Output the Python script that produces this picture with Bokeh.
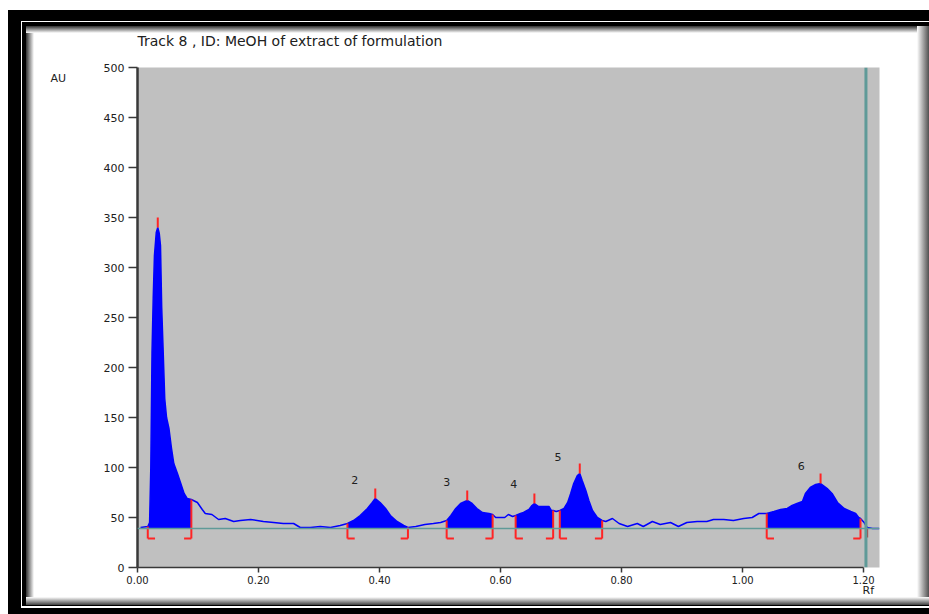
import numpy as np
from bokeh.plotting import figure
from bokeh.models import Range1d, FixedTicker, Span, Label, NumeralTickFormatter
from bokeh.embed import file_html
from bokeh.resources import INLINE
from bokeh.core.properties import value

# ---- data ----
rf = [0.005, 0.017, 0.020, 0.022, 0.024, 0.026, 0.028, 0.031, 0.0335, 0.036, 0.038, 0.040,
      0.042, 0.045, 0.048, 0.052, 0.056, 0.060, 0.066, 0.071, 0.077, 0.082, 0.089,
      0.099, 0.107, 0.112, 0.123, 0.134, 0.145, 0.159, 0.170, 0.187, 0.208, 0.225, 0.241,
      0.258, 0.269, 0.286, 0.302, 0.319, 0.335,
      0.347, 0.357, 0.368, 0.380, 0.388, 0.393, 0.401, 0.410, 0.418, 0.429, 0.440, 0.447,
      0.460, 0.475, 0.489, 0.501,
      0.511, 0.518, 0.526, 0.534, 0.545, 0.553, 0.561, 0.570, 0.581, 0.587,
      0.592, 0.607, 0.613, 0.620,
      0.625, 0.633, 0.638, 0.647, 0.652, 0.656, 0.663, 0.680, 0.684, 0.687,
      0.692,
      0.698, 0.705, 0.711, 0.716, 0.721, 0.727, 0.731, 0.735, 0.741, 0.746, 0.752, 0.760, 0.768,
      0.774, 0.785, 0.796, 0.810, 0.826, 0.836, 0.851, 0.864, 0.881, 0.894, 0.908, 0.925,
      0.941, 0.952, 0.969, 0.985, 1.002, 1.016, 1.027,
      1.040, 1.052, 1.063, 1.074, 1.082, 1.090, 1.099, 1.104, 1.112, 1.121, 1.129, 1.140,
      1.148, 1.157, 1.168, 1.179, 1.187, 1.192, 1.195,
      1.201, 1.206, 1.215, 1.226]
au = [40, 41, 45, 100, 215, 270, 312, 335, 340, 334, 322, 260,
      224, 169, 150, 139, 120, 104, 94, 85, 74, 69, 68,
      65, 58, 54, 53, 48, 49, 46, 47, 48, 46, 45, 44,
      44, 40, 40, 41, 40, 42,
      44, 47, 52, 59, 65, 69, 65, 59, 52, 46, 42, 40,
      41, 43, 44, 45,
      47, 52, 59, 64, 67, 64, 59, 55, 54, 53,
      50, 50, 53, 51,
      52, 54, 55, 58, 62, 64, 61, 61, 57, 57,
      56,
      57, 59, 65, 74, 84, 92, 94, 87, 77, 67, 57, 50, 47,
      46, 49, 44, 41, 44, 41, 46, 43, 45, 41, 45, 46,
      46, 48, 48, 47, 49, 50, 54,
      54, 56, 58, 59, 62, 64, 66, 74, 80, 83, 84, 79,
      74, 65, 59, 56, 54, 50, 49,
      45, 40, 39, 39]

baseline_au = 39
peak_start = [0.017, 0.347, 0.511, 0.625, 0.698, 1.040]
peak_end = [0.089, 0.447, 0.587, 0.687, 0.768, 1.195]
peak_max_rf = [0.0335, 0.393, 0.545, 0.656, 0.731, 1.129]
peak_max_au = [340, 69, 67, 64, 94, 84]
label_rf = [0.359, 0.511, 0.622, 0.695, 1.097]
label_au = [88, 86, 84, 111, 102]
label_text = ["2", "3", "4", "5", "6"]
front_rf = 1.204
x_ticks = [0.0, 0.2, 0.4, 0.6, 0.8, 1.0, 1.2]
y_ticks = [0, 50, 100, 150, 200, 250, 300, 350, 400, 450, 500]
title_text = "Track  8 , ID: MeOH of extract of formulation"

W, H = 929, 614
FONT = "DejaVu Sans"
BLUE = "#0000ff"
RED = "#ff2424"
TEAL = "#5f9a98"

# decorative picture frame drawn as CSS background layers behind a transparent canvas
layers = [
    "linear-gradient(to right, #ffffff, #505050) 917px 26px / 12px 571px no-repeat",
    "linear-gradient(to bottom, #ffffff, #404040) 26px 597px / 903px 8px no-repeat",
    "linear-gradient(to bottom, #303030, #ffffff) 26px 26px / 903px 7px no-repeat",
    "linear-gradient(to right, #303030, #ffffff) 26px 26px / 8px 571px no-repeat",
    "linear-gradient(#000, #000) 22px 22px / 907px 4px no-repeat",
    "linear-gradient(#000, #000) 22px 22px / 4px 584px no-repeat",
    "linear-gradient(#000, #000) 22px 605px / 907px 1px no-repeat",
    "linear-gradient(#000, #000) 8px 10px / 921px 11px no-repeat",
    "linear-gradient(#000, #000) 8px 10px / 13px 604px no-repeat",
    "linear-gradient(#000, #000) 8px 608px / 921px 6px no-repeat",
]
frame_css = {"background": ", ".join(layers) + ", #ffffff"}

p = figure(width=W, height=H, output_backend="svg", toolbar_location=None,
           x_range=Range1d(0, 1.2264), y_range=Range1d(0, 500),
           min_border_left=137, min_border_right=50, min_border_top=67, min_border_bottom=47,
           styles=frame_css)
p.background_fill_color = "#c0c0c0"
p.border_fill_color = None
p.outline_line_color = None
p.grid.visible = False

x = np.array(rf)
y = np.array(au)

# filled peaks
for s, e in zip(peak_start, peak_end):
    m = (x >= s - 1e-9) & (x <= e + 1e-9)
    p.varea(x=x[m], y1=baseline_au, y2=y[m], fill_color=BLUE, fill_alpha=1.0)

# baseline and solvent front
p.add_layout(Span(location=baseline_au, dimension="width", line_color=TEAL, line_width=1.5))
p.add_layout(Span(location=front_rf, dimension="height", line_color=TEAL, line_width=3))

# trace
p.line(x, y, line_color=BLUE, line_width=1.5)

# integration brackets
foot = 0.012
bb = baseline_au - 10
n = len(peak_start)
ys = np.interp(peak_start, x, y)
ye = np.interp(peak_end, x, y)
p.segment(x0=peak_start, y0=ys, x1=peak_start, y1=[bb] * n, line_color=RED, line_width=2)
p.segment(x0=peak_start, y0=[bb] * n, x1=[s + foot for s in peak_start], y1=[bb] * n, line_color=RED, line_width=2)
p.segment(x0=peak_end, y0=ye, x1=peak_end, y1=[bb] * n, line_color=RED, line_width=2)
p.segment(x0=[e - foot for e in peak_end], y0=[bb] * n, x1=peak_end, y1=[bb] * n, line_color=RED, line_width=2)
# peak maxima ticks
p.segment(x0=peak_max_rf, y0=peak_max_au, x1=peak_max_rf, y1=[a + 10 for a in peak_max_au],
          line_color=RED, line_width=2)
# small mark at front
p.segment(x0=[front_rf + 0.002], y0=[baseline_au], x1=[front_rf + 0.002], y1=[bb + 1],
          line_color="#c03030", line_width=2)

# peak numbers
p.text(x=label_rf, y=label_au, text=label_text, text_font=value(FONT), text_font_size="11px",
       text_color="#202020", text_align="center", text_baseline="middle")

# axes
for ax in (p.xaxis[0], p.yaxis[0]):
    ax.axis_line_color = "#383838"
    ax.major_tick_line_color = "#383838"
    ax.major_tick_in = 0
    ax.minor_tick_out = 0
    ax.minor_tick_in = 0
    ax.major_label_text_font = FONT
    ax.major_label_text_color = "#202020"
p.yaxis.ticker = FixedTicker(ticks=y_ticks)
p.yaxis.bounds = (0, 500)
p.yaxis.axis_line_width = 2.5
p.yaxis.major_tick_out = 9
p.yaxis.major_tick_line_width = 1.5
p.yaxis.major_label_text_font_size = "11px"
p.yaxis.major_label_standoff = 4
p.xaxis.ticker = FixedTicker(ticks=x_ticks)
p.xaxis.bounds = (0, 1.2)
p.xaxis.axis_line_width = 1.5
p.xaxis.major_tick_out = 5
p.xaxis.major_tick_line_width = 1.5
p.xaxis.major_label_text_font_size = "10px"
p.xaxis.major_label_standoff = 3
p.xaxis.formatter = NumeralTickFormatter(format="0.00")

# title
p.title.text = title_text
p.title.align = "left"
p.title.text_font = FONT
p.title.text_font_size = "14px"
p.title.text_font_style = "normal"
p.title.text_color = "#202020"
p.title.standoff = 37

# axis unit labels placed in side panels (canvas pixel units)
p.add_layout(Label(x=50, y=78, x_units="canvas", y_units="canvas", text="AU", text_font=FONT,
                   text_font_size="11px", text_color="#202020", text_align="left",
                   text_baseline="middle"), "left")
p.add_layout(Label(x=862, y=590, x_units="canvas", y_units="canvas", text="Rf", text_font=FONT,
                   text_font_size="11px", text_color="#202020", text_align="left",
                   text_baseline="middle"), "below")

open("out.html", "w").write(file_html(p, INLINE))
